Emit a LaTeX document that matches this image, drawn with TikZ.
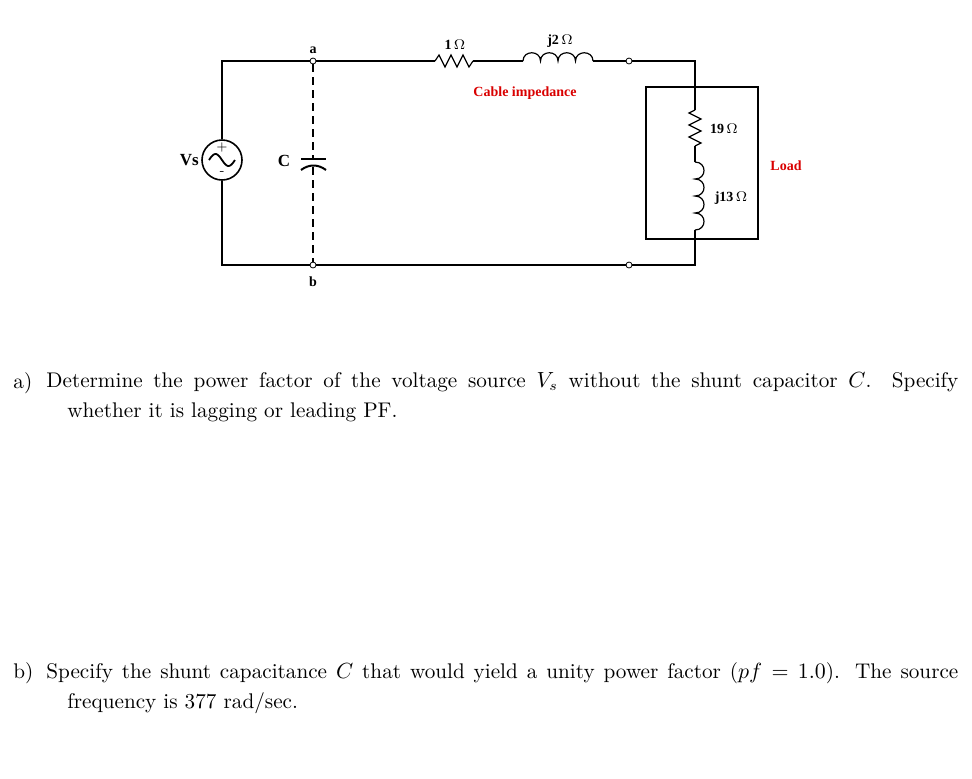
\documentclass[tikz,border=0pt]{standalone}
\usepackage{amsmath}
\usepackage{fontspec}
\newfontfamily\tnr{Liberation Serif}
\usetikzlibrary{positioning,calc}

\tikzset{
    lbl/.style={font=\tnr\bfseries\fontsize{7}{8}\selectfont, inner sep=1pt},
    redlbl/.style={lbl, text=red!85!black},
    term/.style={circle, draw, fill=white, minimum size=3pt, inner sep=0pt},
    wire/.style={line width=0.6pt},
    qtext/.style={anchor=north west, inner sep=0pt, font=\fontsize{10.6}{15}\selectfont}
}

\begin{document}
\begin{tikzpicture}[x=0.5pt, y=-0.5pt]
    \useasboundingbox (0,0) rectangle (972,778);

    % Source and terminals
    \node[circle, draw, line width=0.8pt, minimum size=20pt, inner sep=0pt] (vs) at (222,160) {};
    \node[term] (ta) at (313,61) {};
    \node[term] (tb) at (313,265) {};
    \node[term] (tc) at (629,61) {};
    \node[term] (td) at (629,265) {};
    \coordinate (lt) at (222,61);
    \coordinate (lb) at (222,265);
    \coordinate (rt) at (695,61);
    \coordinate (rb) at (695,265);

    % Wires
    \draw[wire] (vs.north) -- (lt) -- (ta) -- (435,61);
    \draw[wire] (vs.south) -- (lb) -- (tb) -- (td) -- (rb) -- (695,230);
    \draw[wire] (473,61) -- (523,61);
    \draw[wire] (593,61) -- (tc) -- (rt) -- (695,110);
    \draw[wire] (695,146) -- (695,162);

    % Sine and polarity
    \draw[line width=0.9pt] plot[domain=0:1, samples=30] ({209+26*\x}, {160-6*sin(360*\x)});
    \node[font=\fontsize{6}{6}\selectfont, inner sep=0pt] at (222,147) {+};
    \node[font=\fontsize{6}{6}\selectfont, inner sep=0pt] at (222,173) {-};

    % Shunt capacitor
    \draw[wire, dash pattern=on 4pt off 2.5pt] (ta) -- (313,158);
    \draw[wire, dash pattern=on 4pt off 2.5pt] (313,167) -- (tb);
    \draw[line width=1pt] (301,159) -- (326,159);
    \draw[line width=1pt] (301,170) .. controls (309,164) and (318,164) .. (326,170);

    % Cable impedance
    \draw[wire] (435,61) -- (439,55) -- (445,67) -- (451,55) -- (457,67) -- (463,55) -- (469,67) -- (473,61);
    \draw[wire] (523,61)
        \foreach \i in {0,...,3} { .. controls ({523+17.5*\i},50) and ({540.5+17.5*\i},50) .. ({540.5+17.5*\i},61) };

    % Load
    \draw[wire] (646,87) rectangle (758,239);
    \draw[wire] (695,110) -- (689,113) -- (701,119) -- (689,125) -- (701,131) -- (689,137) -- (701,143) -- (695,146);
    \draw[wire] (695,162)
        \foreach \i in {0,...,3} { .. controls (707,{162+17*\i}) and (707,{179+17*\i}) .. (695,{179+17*\i}) };

    % Labels
    \node[lbl] at (vs.west) [left] {\fontsize{8.5}{9}\selectfont Vs};
    \node[lbl] (lc) at (284,161) {\fontsize{8.5}{9}\selectfont C};
    \node[lbl] [above=1pt of ta] {a};
    \node[lbl] [below=3pt of tb] {b};
    \node[lbl] at (455,45) {1\,$\Omega$};
    \node[lbl] at (560,41) {j2\,$\Omega$};
    \node[redlbl] at (525,93) {Cable impedance};
    \node[lbl] at (724,129) {19\,$\Omega$};
    \node[lbl] at (731,198) {j13\,$\Omega$};
    \node[redlbl] at (786,166) {Load};

    % Questions
    \node[qtext] (qa) at (13,372) {a)};
    \node[qtext, text width=456pt, align=justify] (pa) at (46,372)
        {Determine the power factor of the voltage source $V_s$ without the shunt capacitor $C$. Specify\linebreak
        \hspace*{10.5pt}whether it is lagging or leading PF.};
    \node[qtext] (qb) at (13,662) {b)};
    \node[qtext, text width=456pt, align=justify] (pb) at (46,662)
        {Specify the shunt capacitance $C$ that would yield a unity power factor ($pf=1.0$). The source\linebreak
        \hspace*{10.5pt}frequency is 377 rad/sec.};
\end{tikzpicture}
\end{document}
